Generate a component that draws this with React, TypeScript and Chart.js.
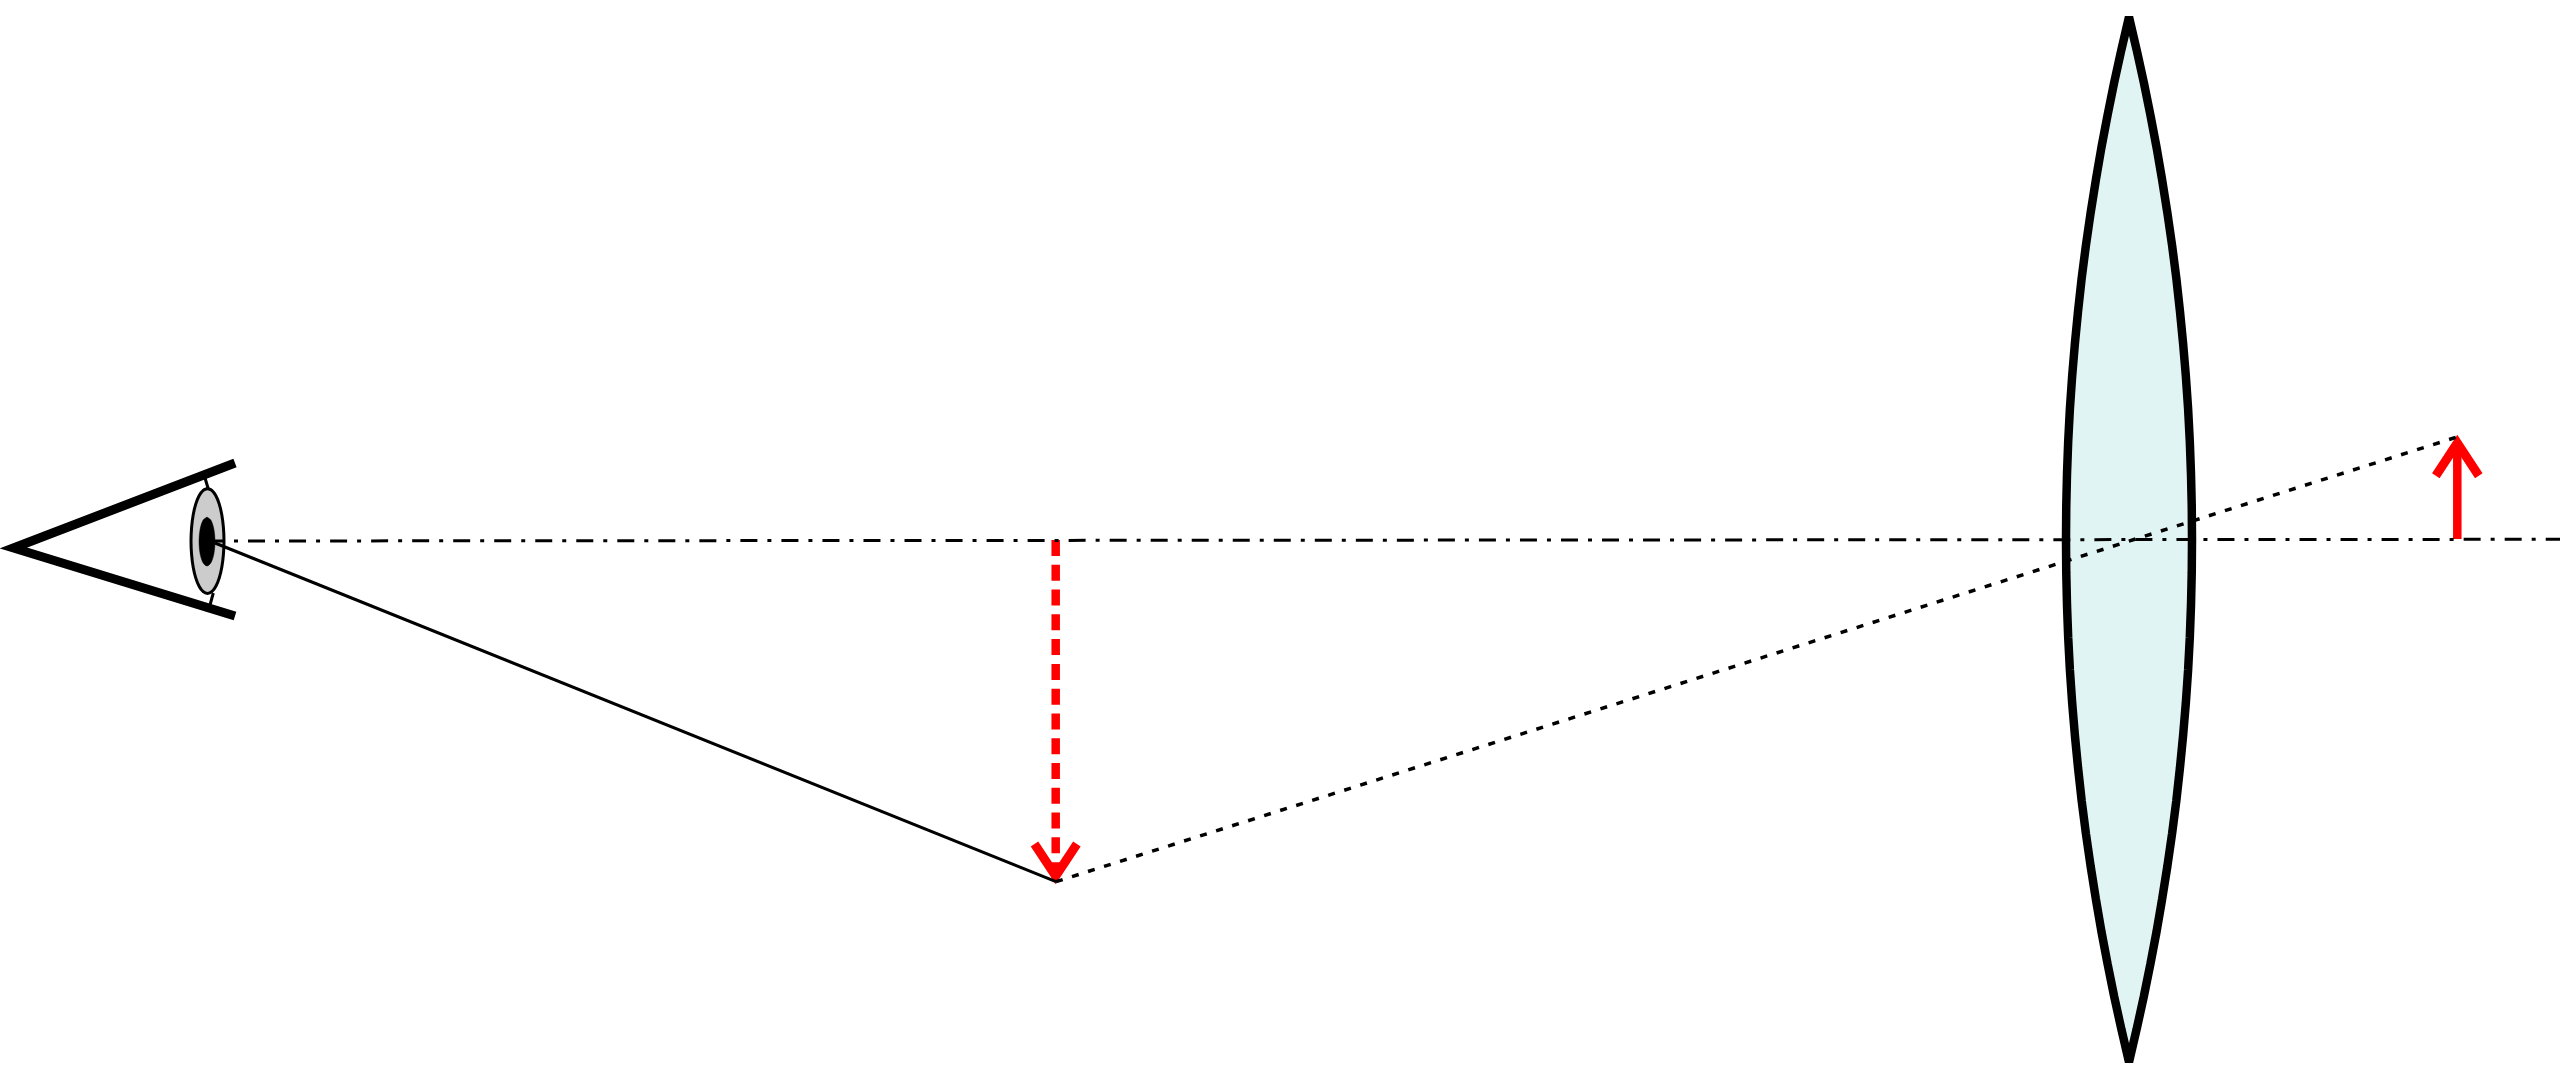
import React, { useEffect, useRef } from 'react'
import { Chart, registerables } from 'chart.js'

Chart.register(...registerables)

// Diagram units: x runs from the left edge, y is the height above the optical axis
const lensX = [
    219.2, 219.175, 219.1, 218.98, 218.81, 218.585, 218.31, 217.99, 217.63, 217.21, 216.74, 216.22, 215.66, 215.04, 214.38, 213.66, 212.9,
    212.14, 211.42, 210.76, 210.14, 209.58, 209.06, 208.59, 208.17, 207.81, 207.49, 207.215, 206.99, 206.82, 206.7, 206.625, 206.6,
    206.625, 206.7, 206.82, 206.99, 207.215, 207.49, 207.81, 208.17, 208.59, 209.06, 209.58, 210.14, 210.76, 211.42, 212.14, 212.9,
    213.66, 214.38, 215.04, 215.66, 216.22, 216.74, 217.21, 217.63, 217.99, 218.31, 218.585, 218.81, 218.98, 219.1, 219.175, 219.2
]
const lensY = [
    0.05, 3.33, 6.6, 9.86, 13.12, 16.38, 19.65, 22.93, 26.2, 29.45, 32.7, 35.97, 39.24, 42.5, 45.77, 49.03, 52.3,
    49.03, 45.77, 42.5, 39.24, 35.97, 32.7, 29.45, 26.2, 22.93, 19.65, 16.38, 13.12, 9.86, 6.6, 3.33, 0.05,
    -3.22, -6.5, -9.75, -13, -16.27, -19.55, -22.83, -26.1, -29.35, -32.6, -35.87, -39.14, -42.4, -45.67, -48.93, -52.2,
    -48.93, -45.67, -42.4, -39.14, -35.87, -32.6, -29.35, -26.1, -22.83, -19.55, -16.27, -13, -9.75, -6.5, -3.22, 0.05
]

const lidX = [23.5, 1.35, 23.5]
const lidY = [7.7, -0.8, -7.6]

const eyeX = [20.75, 21.18, 21.575, 21.92, 22.18, 22.34, 22.4, 22.34, 22.18, 21.92, 21.575, 21.18, 20.75, 20.32, 19.925, 19.58, 19.32, 19.16, 19.1, 19.16, 19.32, 19.58, 19.925, 20.32, 20.75]
const eyeY = [5.15, 4.97, 4.45, 3.61, 2.525, 1.26, -0.1, -1.46, -2.725, -3.81, -4.65, -5.17, -5.35, -5.17, -4.65, -3.81, -2.725, -1.46, -0.1, 1.26, 2.525, 3.61, 4.45, 4.97, 5.15]

const pupilX = [20.7, 21.1, 21.39, 21.5, 21.39, 21.1, 20.7, 20.3, 20.01, 19.9, 20.01, 20.3, 20.7]
const pupilY = [2.3, 1.97, 1.075, -0.15, -1.375, -2.27, -2.6, -2.27, -1.375, -0.15, 1.075, 1.97, 2.3]

const upperStubX = [20.5, 20.83]
const upperStubY = [6.2, 5.1]
const lowerStubX = [21.33, 21.0]
const lowerStubY = [-5.3, -6.5]

const axisX = [20.7, 256]
const axisY = [-0.1, 0.07]

const rayX = [21.5, 105.6]
const rayY = [-0.3, -34.17]
const virtualRayX = [105.6, 245.7]
const virtualRayY = [-34.17, 10.3]

const objectX = [245.73, 245.73]
const objectY = [0.1, 9.6]
const objectHeadX = [243.58, 245.73, 247.88]
const objectHeadY = [6.43, 9.7, 6.43]

const imageX = [105.57, 105.57]
const imageY = [0, -33.8]
const imageHeadX = [103.45, 105.57, 107.69]
const imageHeadY = [-30.4, -33.6, -30.4]

const zip = (xs: number[], ys: number[]) => xs.map((x, i) => ({ x, y: ys[i] }))

export default function App() {
    const chartRef = useRef<HTMLCanvasElement>(null)

    useEffect(() => {
        if (!chartRef.current) return

        const line = (xs: number[], ys: number[], color: string, width: number, order: number, dash: number[] = []) => ({
            data: zip(xs, ys),
            showLine: true,
            borderColor: color,
            borderWidth: width,
            borderDash: dash,
            pointRadius: 0,
            tension: 0,
            fill: false,
            clip: false,
            order
        })

        const chart = new Chart(chartRef.current, {
            type: 'scatter',
            data: {
                datasets: [
                    // one very long dash keeps chart.js off its fast path, which snaps points to whole x pixels
                    { ...line(lensX, lensY, '#000000', 8.5, 10, [5000]), backgroundColor: '#e0f5f3', fill: 'shape', borderJoinStyle: 'bevel' },
                    line(upperStubX, upperStubY, '#000000', 3, 9),
                    line(lowerStubX, lowerStubY, '#000000', 3, 9),
                    { ...line(eyeX, eyeY, '#000000', 3, 8), backgroundColor: '#cccccc', fill: 'shape', tension: 0.3 },
                    { ...line(pupilX, pupilY, '#000000', 0.5, 7), backgroundColor: '#000000', fill: 'shape', tension: 0.3 },
                    line(lidX, lidY, '#000000', 9, 6),
                    line(objectX, objectY, '#ff0000', 8.5, 5),
                    line(objectHeadX, objectHeadY, '#ff0000', 9, 5),
                    line(imageX, imageY, '#ff0000', 8.5, 5, [16, 8.78]),
                    line(imageHeadX, imageHeadY, '#ff0000', 9, 5),
                    line(axisX, axisY, '#000000', 3, 2, [17, 10, 4, 10.03]),
                    line(rayX, rayY, '#000000', 3, 1),
                    line(virtualRayX, virtualRayY, '#000000', 3.5, 1, [7, 9.8])
                ]
            } as any,
            options: {
                responsive: false,
                animation: false,
                devicePixelRatio: 1,
                layout: { padding: 0 },
                plugins: {
                    legend: { display: false },
                    tooltip: { enabled: false },
                    title: { display: false }
                },
                scales: {
                    x: { type: 'linear', min: 0, max: 256, display: false },
                    y: { type: 'linear', min: -54, max: 54, display: false }
                }
            }
        })

        return () => {
            chart.destroy()
        }
    }, [])

    return (
        <div style={{ position: 'absolute', left: 0, top: 0, width: 2560, height: 1080, background: '#ffffff' }}>
            <canvas ref={chartRef} width={2560} height={1080} style={{ display: 'block' }} />
        </div>
    )
}
